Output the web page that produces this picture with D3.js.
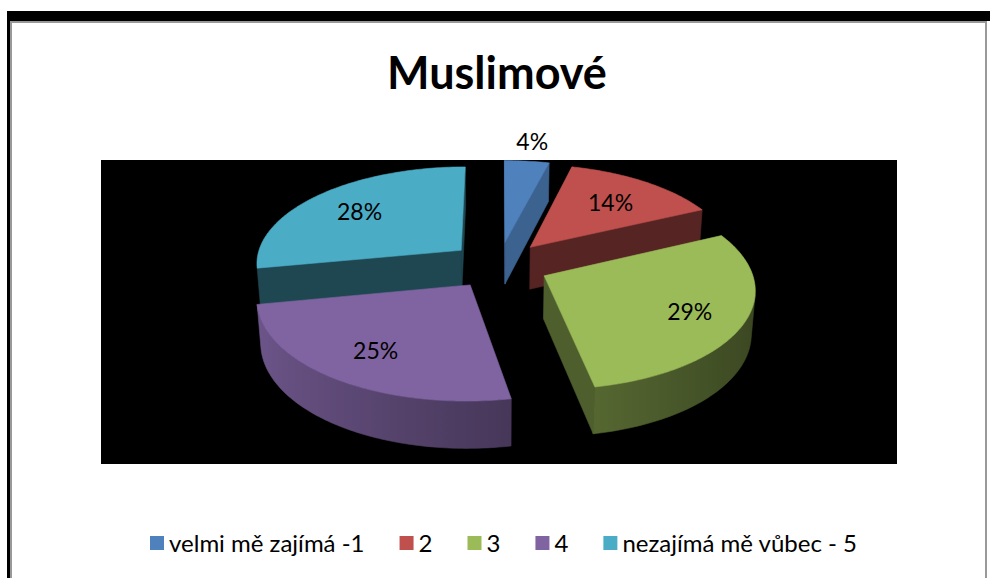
<!DOCTYPE html>
<html>
<head>
<meta charset="utf-8">
<script src="https://d3js.org/d3.v7.min.js"></script>
<style>
  body { margin: 0; background: #fff; }
  svg text { font-family: Lato, "Open Sans", sans-serif; }
</style>
</head>
<body>
<script>
  // chart values
  var categories = ["velmi mě zajímá -1", "2", "3", "4", "nezajímá mě vůbec - 5"];
  var shares = [4, 14, 29, 25, 28];
  var colors = ["#4f81bd", "#c0504d", "#9bbb59", "#8064a2", "#4bacc6"];

  // look of the 3d pie: darkness of the cut faces, where the % labels sit
  var sideShade = [0.76, 0.45, 0.5, 0.5, 0.41];
  var labelRadius = [1.28, 0.68, 0.74, 0.72, 0.7];

  var W = 990, H = 578;
  var svg = d3.select("body").append("svg")
      .attr("width", W)
      .attr("height", H);
  var defs = svg.append("defs");

  // frame around the chart
  svg.append("rect").attr("x", 7).attr("y", 11).attr("width", 983).attr("height", 10).attr("fill", "#000");
  svg.append("rect").attr("x", 7).attr("y", 11).attr("width", 3).attr("height", H - 11).attr("fill", "#000");
  svg.append("rect").attr("x", 10).attr("y", 21).attr("width", 977).attr("height", 2).attr("fill", "#999");
  svg.append("rect").attr("x", 10).attr("y", 21).attr("width", 2).attr("height", H - 21).attr("fill", "#999");
  svg.append("rect").attr("x", 985).attr("y", 21).attr("width", 2).attr("height", H - 21).attr("fill", "#999");

  svg.append("text")
      .attr("x", 497).attr("y", 89)
      .attr("text-anchor", "middle")
      .attr("font-size", 45).attr("font-weight", "bold")
      .text("Muslimové");

  // plot area
  svg.append("rect").attr("x", 101).attr("y", 160).attr("width", 796).attr("height", 304).attr("fill", "#000");

  /*
    3d pie: slices live in the X/Z plane, Y is up, seen from above with perspective
  */
  var cx = 499, cy = 265, R = 206, thick = 49, explode = 50, dist = 1500;
  var tilt = Math.asin(0.47), sinT = Math.sin(tilt), cosT = Math.cos(tilt);
  var cam = [0, dist * sinT, -dist * cosT];

  function proj(X, Y, Z) {
    var up = Y * cosT + Z * sinT,
        d = Z * cosT - Y * sinT,
        s = dist / (dist + d);
    return [cx + X * s, cy - up * s];
  }
  function facing(n, p) {
    return n[0] * (cam[0] - p[0]) + n[1] * (cam[1] - p[1]) + n[2] * (cam[2] - p[2]) > 0;
  }
  function tint(c, f) {
    var r = d3.rgb(c);
    return d3.rgb(r.r * f, r.g * f, r.b * f).formatHex();
  }
  function wallShade(t) {
    return 0.62 - 0.24 * Math.sin(t) + 0.025 * Math.cos(t);
  }
  var line = d3.line();

  var arcs = d3.pie().sort(null).value(function(d) { return d; })(shares);
  var slices = arcs.map(function(a, i) {
    var m = (a.startAngle + a.endAngle) / 2;
    return {
      i: i, a0: a.startAngle, a1: a.endAngle, m: m,
      ox: explode * Math.sin(m), oz: explode * Math.cos(m),
      z: (explode + R * 0.5) * Math.cos(m)
    };
  });
  // far slices first
  var order = slices.slice().sort(function(p, q) { return q.z - p.z; });

  var pie = svg.append("g");

  order.forEach(function(s) {
    var col = colors[s.i];
    var g = pie.append("g");
    function rim(t, y) { return proj(s.ox + R * Math.sin(t), y, s.oz + R * Math.cos(t)); }
    var apexTop = proj(s.ox, 0, s.oz), apexBot = proj(s.ox, -thick, s.oz);

    // cut faces
    [[s.a0, s.a0 - Math.PI / 2], [s.a1, s.a1 + Math.PI / 2]].forEach(function(f) {
      var t = f[0], na = f[1];
      var n = [Math.sin(na), 0, Math.cos(na)];
      var p = [s.ox + R / 2 * Math.sin(t), -thick / 2, s.oz + R / 2 * Math.cos(t)];
      if (!facing(n, p)) return;
      var c = tint(col, sideShade[s.i]);
      g.append("path")
          .attr("d", line([apexTop, rim(t, 0), rim(t, -thick), apexBot]) + "Z")
          .attr("fill", c).attr("stroke", c).attr("stroke-width", 0.6);
    });

    // outer wall, split into runs of visible pieces
    var n = Math.ceil((s.a1 - s.a0) / (Math.PI / 180)), dt = (s.a1 - s.a0) / n;
    var runs = [], cur = null;
    for (var k = 0; k < n; k++) {
      var t = s.a0 + (k + 0.5) * dt;
      var vis = facing([Math.sin(t), 0, Math.cos(t)],
                       [s.ox + R * Math.sin(t), -thick / 2, s.oz + R * Math.cos(t)]);
      if (vis) {
        if (!cur) { cur = [k, k]; runs.push(cur); }
        cur[1] = k;
      } else cur = null;
    }
    runs.forEach(function(run, ri) {
      var ts = [];
      for (var k = run[0]; k <= run[1] + 1; k++) ts.push(s.a0 + k * dt);
      var top = ts.map(function(t) { return rim(t, 0); });
      var bot = ts.map(function(t) { return rim(t, -thick); }).reverse();
      var x1 = top[0][0], x2 = top[top.length - 1][0];
      var id = "wall" + s.i + "_" + ri;
      var grad = defs.append("linearGradient")
          .attr("id", id).attr("gradientUnits", "userSpaceOnUse")
          .attr("x1", x1).attr("x2", x2).attr("y1", 0).attr("y2", 0);
      var stops = ts.map(function(t, j) {
        return { o: x2 === x1 ? 0 : (top[j][0] - x1) / (x2 - x1), c: tint(col, wallShade(t)) };
      }).sort(function(p, q) { return p.o - q.o; });
      stops.forEach(function(st) {
        grad.append("stop").attr("offset", Math.max(0, Math.min(1, st.o))).attr("stop-color", st.c);
      });
      g.append("path")
          .attr("d", line(top.concat(bot)) + "Z")
          .attr("fill", "url(#" + id + ")")
          .attr("stroke", "url(#" + id + ")").attr("stroke-width", 0.6);
    });

    // top face
    var pts = [apexTop];
    for (var k = 0; k <= n; k++) pts.push(rim(s.a0 + k * dt, 0));
    g.append("path")
        .attr("d", line(pts) + "Z")
        .attr("fill", col).attr("stroke", col).attr("stroke-width", 0.6);
  });

  // percentage labels
  function labelPos(s) {
    var r = explode + labelRadius[s.i] * R;
    return proj(r * Math.sin(s.m), 0, r * Math.cos(s.m));
  }
  svg.append("g").selectAll("text")
    .data(slices)
    .join("text")
      .attr("x", function(s) { return labelPos(s)[0]; })
      .attr("y", function(s) { return labelPos(s)[1]; })
      .attr("text-anchor", "middle")
      .attr("dominant-baseline", "central")
      .attr("font-size", 23)
      .attr("fill", "#000")
      .text(function(s) { return shares[s.i] + "%"; });

  // legend, spread between the left and right ends seen in the original
  var legend = svg.append("g");
  var items = legend.selectAll("g").data(categories).join("g");
  items.append("rect")
      .attr("y", 536).attr("width", 14).attr("height", 14)
      .attr("fill", function(d, i) { return colors[i]; });
  items.append("text")
      .attr("x", 19).attr("y", 552)
      .attr("font-size", 24)
      .text(function(d) { return d; });
  var widths = [];
  items.each(function() { widths.push(19 + this.querySelector("text").getComputedTextLength()); });
  var left = 150, right = 857;
  var gap = (right - left - d3.sum(widths)) / (widths.length - 1);
  var x = left;
  items.attr("transform", function(d, i) {
    var t = "translate(" + x + ",0)";
    x += widths[i] + gap;
    return t;
  });
</script>
</body>
</html>
